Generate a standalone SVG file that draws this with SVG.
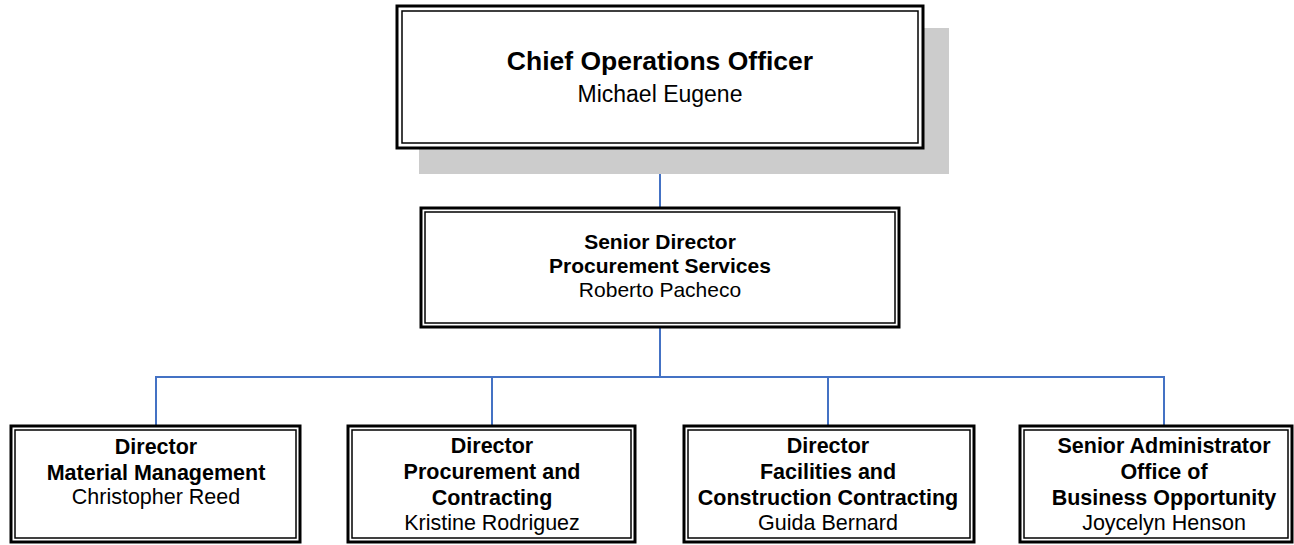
<svg xmlns="http://www.w3.org/2000/svg" width="1294" height="545" viewBox="0 0 1294 545">
<style>
.outer{fill:#fff;stroke:#000;stroke-width:3}
.inner{fill:none;stroke:#000;stroke-width:1.5}
.shadow{fill:#cccccc}
.conn{stroke:#4472C4;stroke-width:2;fill:none}
text{font-family:"Liberation Sans",Arial,sans-serif;text-anchor:middle;fill:#000}
.b{font-weight:bold}
.t1{font-size:26.5px}
.t2{font-size:23px}
.s{font-size:21px}
.m{font-size:21.5px}
</style>
<rect width="1294" height="545" fill="#fff"/>
<g id="connectors">
<line class="conn" x1="660" y1="149" x2="660" y2="207"/>
<line class="conn" x1="660" y1="328" x2="660" y2="377"/>
<line class="conn" x1="156" y1="377" x2="1164" y2="377"/>
<line class="conn" x1="156" y1="376" x2="156" y2="425"/>
<line class="conn" x1="492" y1="376" x2="492" y2="425"/>
<line class="conn" x1="828" y1="376" x2="828" y2="425"/>
<line class="conn" x1="1164" y1="376" x2="1164" y2="425"/>
</g>
<g id="coo">
<rect class="shadow" x="419" y="28" width="530" height="146"/>
<rect class="outer" x="397" y="6" width="526" height="142"/>
<rect class="inner" x="402" y="11" width="516" height="132"/>
<text class="b t1" x="660" y="70">Chief Operations Officer</text>
<text class="t2" x="660" y="102">Michael Eugene</text>
</g>
<g id="senior-director">
<rect class="outer" x="421" y="208" width="478" height="119"/>
<rect class="inner" x="425" y="212" width="470" height="111"/>
<text class="b s" x="660" y="249">Senior Director</text>
<text class="b s" x="660" y="273">Procurement Services</text>
<text class="s" x="660" y="297">Roberto Pacheco</text>
</g>
<g id="director-material">
<rect class="outer" x="11" y="426" width="289" height="116"/>
<rect class="inner" x="15" y="430" width="281" height="108"/>
<text class="b m" x="156" y="454">Director</text>
<text class="b m" x="156" y="480">Material Management</text>
<text class="m" x="156" y="504">Christopher Reed</text>
</g>
<g id="director-procurement">
<rect class="outer" x="348" y="426" width="287" height="116"/>
<rect class="inner" x="352" y="430" width="279" height="108"/>
<text class="b m" x="492" y="453">Director</text>
<text class="b m" x="492" y="479">Procurement and</text>
<text class="b m" x="492" y="505">Contracting</text>
<text class="m" x="492" y="530">Kristine Rodriguez</text>
</g>
<g id="director-facilities">
<rect class="outer" x="684" y="426" width="290" height="116"/>
<rect class="inner" x="688" y="430" width="282" height="108"/>
<text class="b m" x="828" y="453">Director</text>
<text class="b m" x="828" y="479">Facilities and</text>
<text class="b m" x="828" y="505">Construction Contracting</text>
<text class="m" x="828" y="530">Guida Bernard</text>
</g>
<g id="senior-administrator">
<rect class="outer" x="1020" y="426" width="272" height="116"/>
<rect class="inner" x="1024" y="430" width="264" height="108"/>
<text class="b m" x="1164" y="453">Senior Administrator</text>
<text class="b m" x="1164" y="479">Office of</text>
<text class="b m" x="1164" y="505">Business Opportunity</text>
<text class="m" x="1164" y="530">Joycelyn Henson</text>
</g>
</svg>
